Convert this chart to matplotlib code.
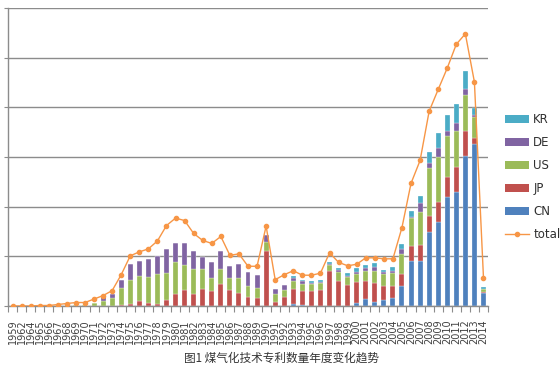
import numpy as np
import matplotlib
matplotlib.use('Agg')
import matplotlib.pyplot as plt
from matplotlib.patches import Patch
from matplotlib.lines import Line2D

# Categories (1960, 1961, 1963 have no entry in the source chart)
years = ['1959', '1962', '1964', '1965', '1966', '1967', '1968', '1969', '1970', '1971',
         '1972', '1973', '1974', '1975', '1976', '1977', '1978', '1979', '1980', '1981',
         '1982', '1983', '1984', '1985', '1986', '1987', '1988', '1989', '1990', '1991',
         '1992', '1993', '1994', '1995', '1996', '1997', '1998', '1999', '2000', '2001',
         '2002', '2003', '2004', '2005', '2006', '2007', '2008', '2009', '2010', '2011',
         '2012', '2013', '2014']

cn = [0, 0, 0, 0, 0, 0, 0, 0, 0, 0, 0, 0, 0, 0, 0, 0, 0, 0, 0, 0,
      0, 0, 0, 0, 0, 0, 0, 0, 0, 0, 0, 4, 2, 0, 0, 0, 0, 0, 7, 15,
      9, 12, 17, 40, 90, 90, 149, 169, 219, 230, 302, 327, 27]
jp = [0, 0, 0, 0, 0, 0, 0, 0, 0, 0, 0, 0, 3, 4, 11, 7, 5, 12, 25, 33,
      25, 35, 30, 45, 32, 27, 19, 17, 110, 9, 19, 30, 28, 31, 33, 71, 51, 43, 42, 35,
      37, 28, 24, 25, 30, 33, 33, 40, 41, 50, 50, 12, 2]
us = [0, 0, 0, 0, 0, 1, 1, 2, 2, 7, 10, 17, 34, 48, 49, 51, 60, 55, 63, 49,
      50, 40, 27, 30, 25, 29, 22, 19, 19, 15, 13, 16, 15, 13, 13, 11, 18, 15, 15, 21,
      25, 24, 26, 40, 57, 67, 95, 92, 82, 73, 73, 41, 5]
de = [0, 0, 0, 0, 0, 0, 0, 0, 0, 0, 8, 8, 16, 33, 31, 37, 36, 47, 38, 45,
      35, 23, 31, 35, 24, 29, 27, 27, 13, 11, 11, 7, 5, 3, 3, 3, 3, 2, 5, 5,
      7, 4, 4, 10, 3, 18, 11, 18, 10, 15, 11, 5, 1]
kr = [0, 0, 0, 0, 0, 0, 0, 0, 0, 0, 0, 0, 0, 0, 0, 0, 0, 0, 0, 0,
      0, 0, 0, 0, 0, 0, 0, 0, 0, 0, 0, 3, 3, 3, 3, 4, 5, 7, 7, 7,
      8, 4, 7, 9, 12, 13, 22, 30, 32, 38, 37, 13, 4]
total = [0, 0, 0, 1, 1, 3, 5, 7, 7, 14, 21, 31, 63, 101, 109, 115, 131, 162, 177, 172,
         146, 132, 126, 140, 102, 105, 80, 80, 161, 53, 63, 71, 62, 62, 66, 107, 88, 81, 84, 97,
         97, 95, 95, 158, 247, 293, 392, 436, 479, 527, 548, 451, 57]

series = [('CN', cn, '#4F81BD'), ('JP', jp, '#C0504D'), ('US', us, '#9BBB59'),
          ('DE', de, '#8064A2'), ('KR', kr, '#4BACC6')]
line_color = '#F79646'
grid_color = '#8C8C8C'

fig = plt.figure(figsize=(5.6, 3.67), dpi=100)
ax = fig.add_axes([8 / 560, 1 - 306 / 367, 480 / 560, 298 / 367])

x = np.arange(len(years))
bottom = np.zeros(len(years))
for name, vals, color in series:
    ax.bar(x, vals, width=0.55, bottom=bottom, color=color, edgecolor='white',
           linewidth=0.2, zorder=2)
    bottom += np.array(vals)

ax.plot(x, total, color=line_color, linewidth=1.0, marker='o', markersize=3,
        zorder=3)

ax.set_xlim(-0.5, len(years) - 0.5)
ax.set_ylim(0, 600)
ax.set_yticks(np.arange(0, 601, 100))
ax.set_yticklabels([])
ax.yaxis.grid(True, color=grid_color, linewidth=1.0, zorder=0)
ax.set_axisbelow(True)

ax.set_xticks(x)
ax.set_xticklabels(years, rotation=90, fontsize=7, color='#404040')
ax.set_xticks(np.arange(-0.5, len(years), 1), minor=True)
ax.tick_params(axis='x', which='major', length=0, pad=9.5)
ax.tick_params(axis='x', which='minor', length=4, color=grid_color, width=0.8)
ax.tick_params(axis='y', length=3, color=grid_color, width=0.8)

for s in ['top', 'right']:
    ax.spines[s].set_visible(False)
for s in ['left', 'bottom']:
    ax.spines[s].set_color(grid_color)
    ax.spines[s].set_linewidth(1.0)

# Legend in reverse stacking order, total last
handles = [Patch(facecolor=c, edgecolor='none', label=n) for n, _, c in series[::-1]]
handles.append(Line2D([0], [0], color=line_color, linewidth=1.0, marker='o',
                      markersize=3, label='total'))
fig.legend(handles=handles, loc='upper left', bbox_to_anchor=(505 / 560, 1 - 113 / 367),
           frameon=False, fontsize=8.5, handlelength=2.0, handleheight=0.6,
           labelspacing=0.85, borderpad=0, borderaxespad=0, handletextpad=0.4,
           labelcolor='#303030')

fig.text(281 / 560, 1 - 358 / 367, '图1 煤气化技术专利数量年度变化趋势',
         ha='center', va='center', fontsize=8.4, color='#333333',
         family=['Noto Sans CJK SC', 'DejaVu Sans'])

fig.savefig('out.png', dpi=100)
